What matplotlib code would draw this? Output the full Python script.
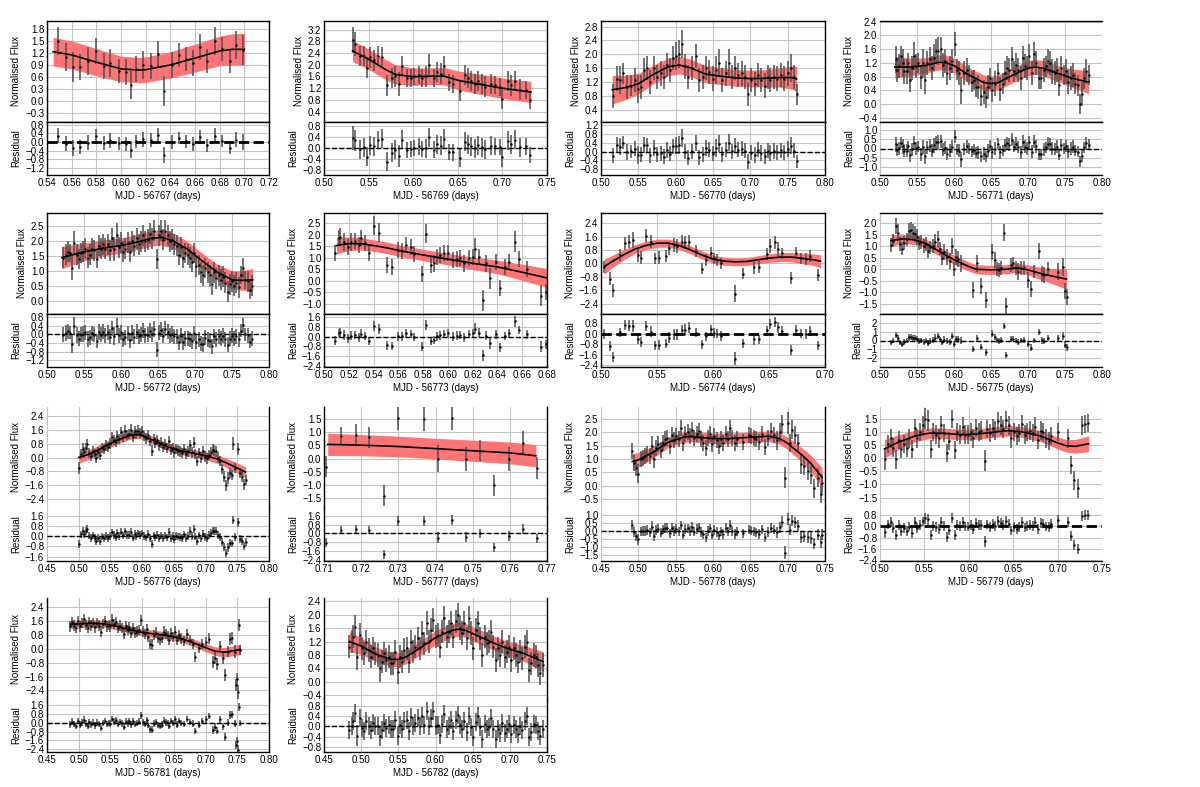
import matplotlib
matplotlib.use("Agg")
import matplotlib.pyplot as plt
from matplotlib.ticker import MultipleLocator
import numpy as np

plt.rcParams['font.family'] = ['Liberation Sans', 'DejaVu Sans']
plt.rcParams['font.size'] = 7

# light curves: (MJD fraction, normalised flux, error)
pts_56767 = [(0.549, 1.50, 0.35), (0.555, 1.10, 0.35), (0.561, 0.85, 0.38), (0.567, 0.85, 0.32),
             (0.573, 1.00, 0.35), (0.580, 1.25, 0.33), (0.586, 0.88, 0.33), (0.591, 0.95, 0.35),
             (0.598, 0.75, 0.30), (0.604, 0.72, 0.33), (0.608, 0.40, 0.35), (0.612, 0.80, 0.32),
             (0.618, 0.90, 0.35), (0.624, 0.88, 0.33), (0.630, 1.18, 0.33), (0.635, 0.25, 0.38),
             (0.641, 0.90, 0.33), (0.647, 1.15, 0.30), (0.653, 1.05, 0.30), (0.658, 0.95, 0.33),
             (0.664, 1.35, 0.33), (0.670, 1.00, 0.30), (0.676, 1.50, 0.35), (0.682, 1.30, 0.30),
             (0.688, 1.00, 0.30), (0.693, 1.40, 0.35), (0.699, 1.28, 0.38)]
mod_56767 = [(0.545, 1.23, 0.36), (0.56, 1.15, 0.35), (0.58, 0.97, 0.34), (0.60, 0.80, 0.32),
             (0.615, 0.77, 0.32), (0.62, 0.78, 0.32), (0.64, 0.90, 0.33), (0.66, 1.07, 0.35),
             (0.68, 1.25, 0.37), (0.69, 1.29, 0.39), (0.70, 1.29, 0.40)]

pts_56769 = [(0.532, 2.85, 0.45), (0.535, 2.70, 0.40), (0.540, 2.30, 0.35), (0.545, 2.30, 0.35),
             (0.548, 1.90, 0.35), (0.552, 2.25, 0.35), (0.556, 2.15, 0.35), (0.560, 2.30, 0.35),
             (0.565, 2.25, 0.35), (0.571, 1.30, 0.35), (0.576, 1.55, 0.35), (0.580, 1.60, 0.35),
             (0.584, 1.35, 0.40), (0.588, 1.95, 0.35), (0.593, 1.55, 0.30), (0.597, 1.55, 0.30),
             (0.601, 1.60, 0.30), (0.606, 1.65, 0.30), (0.610, 1.55, 0.30), (0.614, 1.60, 0.35),
             (0.618, 2.00, 0.35), (0.623, 1.55, 0.30), (0.627, 1.75, 0.35), (0.631, 1.70, 0.35),
             (0.635, 1.95, 0.35), (0.640, 1.40, 0.30), (0.645, 1.35, 0.30), (0.652, 1.10, 0.35),
             (0.658, 1.65, 0.35), (0.661, 1.55, 0.35), (0.665, 1.45, 0.35), (0.669, 1.35, 0.35),
             (0.673, 1.45, 0.35), (0.677, 1.35, 0.35), (0.681, 1.25, 0.35), (0.687, 1.35, 0.35),
             (0.692, 1.30, 0.30), (0.697, 1.25, 0.30), (0.700, 0.85, 0.35), (0.706, 1.45, 0.35),
             (0.710, 1.30, 0.35), (0.714, 1.45, 0.35), (0.720, 1.15, 0.35), (0.726, 1.15, 0.30),
             (0.731, 0.80, 0.30)]
mod_56769 = [(0.532, 2.47, 0.36), (0.55, 2.19, 0.35), (0.57, 1.82, 0.34), (0.58, 1.67, 0.33),
             (0.60, 1.59, 0.30), (0.62, 1.61, 0.28), (0.635, 1.61, 0.30), (0.65, 1.47, 0.32),
             (0.67, 1.36, 0.34), (0.70, 1.20, 0.35), (0.732, 1.07, 0.36)]

pts_56770 = [(0.516, 0.80, 0.35), (0.521, 1.30, 0.35), (0.526, 1.25, 0.40), (0.530, 1.45, 0.30),
             (0.535, 1.05, 0.35), (0.540, 1.10, 0.30), (0.545, 1.25, 0.35), (0.549, 1.00, 0.40),
             (0.553, 1.05, 0.35), (0.557, 1.55, 0.35), (0.562, 1.60, 0.35), (0.566, 1.20, 0.35),
             (0.571, 1.60, 0.35), (0.575, 1.35, 0.35), (0.580, 1.45, 0.35), (0.584, 1.35, 0.35),
             (0.588, 1.70, 0.35), (0.592, 1.55, 0.35), (0.596, 1.90, 0.35), (0.600, 1.95, 0.40),
             (0.604, 2.00, 0.40), (0.608, 2.30, 0.40), (0.612, 1.65, 0.35), (0.617, 1.35, 0.35),
             (0.622, 1.60, 0.35), (0.627, 1.95, 0.35), (0.631, 1.25, 0.35), (0.636, 1.35, 0.35),
             (0.641, 1.60, 0.35), (0.645, 1.50, 0.35), (0.650, 1.30, 0.35), (0.654, 1.55, 0.40),
             (0.658, 1.75, 0.40), (0.662, 1.25, 0.35), (0.667, 1.45, 0.35), (0.671, 1.75, 0.40),
             (0.675, 1.35, 0.35), (0.680, 1.60, 0.35), (0.684, 1.40, 0.35), (0.689, 1.45, 0.35),
             (0.693, 1.35, 0.35), (0.697, 0.85, 0.35), (0.701, 1.25, 0.35), (0.706, 1.15, 0.35),
             (0.710, 1.40, 0.35), (0.714, 1.25, 0.35), (0.719, 1.10, 0.35), (0.723, 1.35, 0.35),
             (0.727, 1.25, 0.35), (0.732, 1.35, 0.35), (0.736, 1.30, 0.35), (0.741, 1.40, 0.35),
             (0.745, 1.30, 0.35), (0.750, 1.45, 0.35), (0.755, 1.60, 0.40), (0.759, 1.35, 0.35),
             (0.763, 0.85, 0.30)]
mod_56770 = [(0.515, 0.98, 0.41), (0.53, 1.03, 0.36), (0.55, 1.15, 0.30), (0.57, 1.42, 0.27),
             (0.59, 1.64, 0.25), (0.605, 1.69, 0.25), (0.62, 1.61, 0.25), (0.64, 1.43, 0.25),
             (0.66, 1.37, 0.24), (0.68, 1.32, 0.24), (0.70, 1.30, 0.24), (0.72, 1.31, 0.25),
             (0.74, 1.33, 0.28), (0.755, 1.33, 0.33), (0.762, 1.29, 0.37)]

pts_56771 = [(0.521, 1.30, 0.40), (0.523, 1.00, 0.35), (0.526, 1.10, 0.35), (0.528, 1.40, 0.30),
             (0.531, 1.20, 0.40), (0.533, 0.95, 0.35), (0.536, 0.95, 0.35), (0.538, 1.20, 0.30),
             (0.541, 0.70, 0.35), (0.543, 1.05, 0.35), (0.546, 1.40, 0.40), (0.549, 1.10, 0.35),
             (0.552, 1.20, 0.30), (0.555, 0.80, 0.35), (0.558, 1.20, 0.40), (0.561, 0.70, 0.40),
             (0.564, 1.20, 0.35), (0.567, 1.30, 0.35), (0.570, 1.05, 0.35), (0.573, 1.35, 0.40),
             (0.576, 1.55, 0.35), (0.579, 1.55, 0.40), (0.582, 1.60, 0.35), (0.585, 1.15, 0.35),
             (0.588, 1.25, 0.35), (0.591, 0.90, 0.35), (0.594, 1.05, 0.35), (0.597, 1.25, 0.35),
             (0.601, 1.75, 0.35), (0.604, 1.00, 0.30), (0.607, 0.90, 0.35), (0.610, 0.40, 0.40),
             (0.614, 0.90, 0.35), (0.617, 1.00, 0.35), (0.620, 0.85, 0.30), (0.624, 0.65, 0.30),
             (0.627, 0.70, 0.30), (0.630, 0.50, 0.30), (0.633, 0.50, 0.35), (0.636, 0.25, 0.30),
             (0.640, 0.35, 0.35), (0.643, 0.20, 0.30), (0.646, 0.50, 0.35), (0.649, 0.75, 0.30),
             (0.652, 0.40, 0.35), (0.656, 0.60, 0.35), (0.659, 0.90, 0.30), (0.662, 0.45, 0.35),
             (0.666, 0.60, 0.30), (0.669, 0.90, 0.35), (0.672, 1.05, 0.35), (0.675, 1.00, 0.35),
             (0.678, 1.30, 0.35), (0.681, 0.95, 0.30), (0.684, 1.15, 0.35), (0.687, 1.00, 0.35),
             (0.690, 0.75, 0.35), (0.693, 1.35, 0.35), (0.696, 1.10, 0.35), (0.699, 1.05, 0.35),
             (0.702, 1.40, 0.35), (0.705, 0.90, 0.35), (0.708, 1.45, 0.35), (0.711, 1.20, 0.35),
             (0.715, 0.75, 0.30), (0.718, 0.75, 0.30), (0.721, 1.00, 0.35), (0.724, 1.10, 0.30),
             (0.727, 1.25, 0.35), (0.730, 1.20, 0.35), (0.733, 0.95, 0.35), (0.736, 0.90, 0.35),
             (0.739, 1.00, 0.35), (0.742, 0.55, 0.30), (0.745, 1.05, 0.35), (0.748, 0.85, 0.30),
             (0.751, 0.95, 0.35), (0.754, 0.65, 0.35), (0.758, 0.75, 0.35), (0.761, 0.85, 0.35),
             (0.764, 0.60, 0.30), (0.767, 0.55, 0.30), (0.770, 0.00, 0.30), (0.773, 0.30, 0.35),
             (0.776, 0.75, 0.30), (0.779, 0.95, 0.35), (0.782, 0.85, 0.30)]
mod_56771 = [(0.52, 1.08, 0.32), (0.54, 1.08, 0.26), (0.56, 1.12, 0.23), (0.58, 1.22, 0.22),
             (0.59, 1.20, 0.22), (0.60, 1.12, 0.22), (0.62, 0.85, 0.22), (0.64, 0.63, 0.22),
             (0.65, 0.60, 0.22), (0.66, 0.63, 0.22), (0.68, 0.85, 0.22), (0.70, 1.05, 0.22),
             (0.71, 1.08, 0.22), (0.72, 1.05, 0.22), (0.74, 0.90, 0.23), (0.76, 0.75, 0.27),
             (0.78, 0.65, 0.33), (0.782, 0.65, 0.34)]

pts_56772 = [(0.521, 1.45, 0.35), (0.525, 1.55, 0.35), (0.528, 1.65, 0.35), (0.531, 1.60, 0.30),
             (0.534, 1.10, 0.40), (0.537, 1.95, 0.40), (0.540, 1.55, 0.35), (0.543, 1.40, 0.35),
             (0.546, 1.60, 0.35), (0.549, 1.65, 0.35), (0.552, 1.75, 0.35), (0.555, 1.45, 0.35),
             (0.558, 1.55, 0.35), (0.561, 1.75, 0.35), (0.564, 1.70, 0.35), (0.567, 1.40, 0.30),
             (0.570, 1.85, 0.35), (0.573, 1.75, 0.35), (0.576, 1.90, 0.35), (0.579, 1.75, 0.35),
             (0.582, 1.90, 0.35), (0.585, 1.70, 0.35), (0.588, 2.10, 0.35), (0.591, 1.75, 0.40),
             (0.594, 2.20, 0.40), (0.597, 1.80, 0.35), (0.600, 1.95, 0.35), (0.603, 1.65, 0.35),
             (0.606, 1.75, 0.35), (0.609, 1.95, 0.35), (0.612, 1.65, 0.35), (0.615, 2.00, 0.35),
             (0.618, 1.85, 0.35), (0.621, 2.10, 0.35), (0.624, 1.90, 0.35), (0.627, 2.00, 0.35),
             (0.630, 2.20, 0.35), (0.633, 2.00, 0.35), (0.636, 2.05, 0.35), (0.639, 2.25, 0.35),
             (0.642, 2.10, 0.35), (0.645, 2.35, 0.35), (0.648, 1.40, 0.35), (0.651, 2.20, 0.35),
             (0.654, 2.35, 0.35), (0.657, 2.05, 0.35), (0.660, 2.35, 0.35), (0.663, 2.20, 0.35),
             (0.666, 2.00, 0.35), (0.669, 2.05, 0.35), (0.672, 1.90, 0.35), (0.675, 1.85, 0.35),
             (0.678, 1.55, 0.35), (0.681, 1.80, 0.35), (0.684, 1.45, 0.35), (0.687, 1.60, 0.35),
             (0.690, 1.55, 0.35), (0.693, 1.45, 0.35), (0.696, 1.30, 0.35), (0.699, 1.60, 0.35),
             (0.702, 1.15, 0.35), (0.705, 1.20, 0.35), (0.708, 0.95, 0.35), (0.711, 0.85, 0.35),
             (0.714, 1.10, 0.35), (0.717, 0.95, 0.35), (0.720, 0.85, 0.35), (0.723, 0.55, 0.35),
             (0.726, 0.95, 0.35), (0.729, 0.75, 0.35), (0.732, 0.85, 0.35), (0.735, 0.70, 0.35),
             (0.738, 0.80, 0.35), (0.741, 0.60, 0.35), (0.744, 0.30, 0.35), (0.747, 0.55, 0.35),
             (0.750, 0.65, 0.35), (0.753, 0.50, 0.35), (0.756, 0.60, 0.35), (0.759, 0.45, 0.35),
             (0.762, 0.85, 0.30), (0.765, 1.10, 0.35), (0.768, 0.70, 0.30), (0.771, 0.65, 0.35),
             (0.774, 0.35, 0.30), (0.777, 0.50, 0.35)]
mod_56772 = [(0.52, 1.45, 0.38), (0.55, 1.64, 0.30), (0.58, 1.79, 0.27), (0.60, 1.85, 0.26),
             (0.62, 1.96, 0.26), (0.64, 2.09, 0.26), (0.655, 2.13, 0.26), (0.67, 2.02, 0.26),
             (0.69, 1.73, 0.26), (0.71, 1.33, 0.26), (0.73, 0.96, 0.27), (0.75, 0.70, 0.30),
             (0.76, 0.68, 0.32), (0.778, 0.70, 0.38)]

pts_56773 = [(0.509, 1.20, 0.35), (0.512, 1.85, 0.35), (0.513, 1.90, 0.40), (0.516, 1.70, 0.40),
             (0.519, 1.45, 0.35), (0.522, 1.70, 0.40), (0.525, 1.75, 0.35), (0.528, 1.55, 0.35),
             (0.530, 1.85, 0.35), (0.533, 1.65, 0.35), (0.536, 1.20, 0.35), (0.540, 2.40, 0.40),
             (0.544, 2.10, 0.40), (0.551, 0.70, 0.35), (0.555, 0.60, 0.35), (0.560, 1.35, 0.35),
             (0.563, 1.30, 0.35), (0.566, 1.55, 0.35), (0.570, 1.45, 0.35), (0.573, 1.15, 0.35),
             (0.579, 0.30, 0.35), (0.582, 2.05, 0.40), (0.586, 0.70, 0.35), (0.589, 0.75, 0.35),
             (0.591, 1.05, 0.35), (0.594, 1.10, 0.35), (0.597, 1.20, 0.35), (0.600, 1.20, 0.35),
             (0.604, 0.90, 0.35), (0.607, 0.95, 0.35), (0.610, 1.00, 0.35), (0.613, 0.75, 0.35),
             (0.617, 1.00, 0.35), (0.620, 1.05, 0.35), (0.622, 1.40, 0.45), (0.625, 1.05, 0.35),
             (0.628, -0.85, 0.45), (0.631, 0.75, 0.35), (0.634, 0.10, 0.45), (0.639, 0.80, 0.35),
             (0.642, -0.30, 0.35), (0.646, 0.60, 0.35), (0.649, 0.80, 0.35), (0.654, 1.70, 0.45),
             (0.657, 0.95, 0.35), (0.664, 0.50, 0.35), (0.675, -0.65, 0.45), (0.679, -0.50, 0.35)]
mod_56773 = [(0.51, 1.53, 0.38), (0.515, 1.58, 0.33), (0.52, 1.61, 0.30), (0.53, 1.61, 0.27),
             (0.54, 1.53, 0.25), (0.55, 1.44, 0.25), (0.56, 1.32, 0.25), (0.58, 1.12, 0.25),
             (0.60, 0.94, 0.25), (0.62, 0.76, 0.27), (0.64, 0.60, 0.30), (0.66, 0.37, 0.35),
             (0.68, 0.12, 0.41)]

pts_56774 = [(0.503, -0.20, 0.35), (0.508, -0.90, 0.40), (0.511, -1.60, 0.40), (0.517, 0.50, 0.35),
             (0.521, 1.20, 0.40), (0.525, 1.30, 0.40), (0.529, 1.40, 0.45), (0.533, 0.50, 0.40),
             (0.536, 0.35, 0.40), (0.540, 1.65, 0.40), (0.545, 1.30, 0.40), (0.548, 0.30, 0.35),
             (0.552, 0.35, 0.40), (0.558, 0.45, 0.35), (0.561, 0.90, 0.40), (0.565, 1.10, 0.40),
             (0.568, 1.05, 0.40), (0.572, 1.30, 0.40), (0.575, 1.25, 0.40), (0.579, 1.30, 0.40),
             (0.585, 0.75, 0.35), (0.590, -0.30, 0.35), (0.594, 0.20, 0.35), (0.598, 0.65, 0.35),
             (0.601, 0.30, 0.35), (0.604, 0.20, 0.35), (0.607, 0.00, 0.35), (0.620, -1.80, 0.50),
             (0.627, -0.60, 0.35), (0.637, -0.20, 0.45), (0.641, -0.20, 0.35), (0.648, 0.55, 0.35),
             (0.651, 1.05, 0.40), (0.655, 1.25, 0.40), (0.658, 0.85, 0.40), (0.662, 0.60, 0.35),
             (0.670, -0.85, 0.35), (0.674, 0.65, 0.35), (0.679, 0.30, 0.35), (0.683, 0.25, 0.35),
             (0.687, 0.45, 0.35), (0.694, -0.70, 0.35)]
mod_56774 = [(0.503, -0.18, 0.45), (0.51, 0.12, 0.36), (0.52, 0.51, 0.30), (0.53, 0.85, 0.26),
             (0.54, 1.07, 0.25), (0.55, 1.21, 0.24), (0.56, 1.21, 0.24), (0.57, 1.07, 0.24),
             (0.58, 0.81, 0.24), (0.59, 0.51, 0.24), (0.60, 0.26, 0.24), (0.61, 0.14, 0.24),
             (0.62, 0.10, 0.24), (0.63, 0.12, 0.24), (0.64, 0.22, 0.24), (0.65, 0.32, 0.25),
             (0.66, 0.38, 0.26), (0.67, 0.38, 0.28), (0.68, 0.30, 0.31), (0.69, 0.22, 0.35),
             (0.696, 0.14, 0.38)]

pts_56775 = [(0.515, 1.05, 0.30), (0.518, 1.25, 0.30), (0.522, 1.90, 0.35), (0.524, 1.60, 0.35),
             (0.527, 1.10, 0.30), (0.530, 0.90, 0.30), (0.533, 1.15, 0.30), (0.537, 1.30, 0.30),
             (0.539, 1.65, 0.35), (0.542, 1.70, 0.35), (0.545, 1.60, 0.35), (0.547, 1.55, 0.35),
             (0.550, 1.40, 0.35), (0.553, 1.15, 0.30), (0.556, 1.20, 0.30), (0.559, 1.00, 0.30),
             (0.562, 1.10, 0.30), (0.565, 0.80, 0.30), (0.568, 0.95, 0.30), (0.572, 1.00, 0.30),
             (0.575, 1.20, 0.35), (0.578, 1.30, 0.35), (0.581, 0.90, 0.30), (0.584, 0.50, 0.30),
             (0.587, 0.75, 0.35), (0.590, 0.55, 0.35), (0.594, 0.35, 0.35), (0.597, 1.00, 0.35),
             (0.600, 0.00, 0.30), (0.603, 0.55, 0.35), (0.606, 0.45, 0.35), (0.610, 0.25, 0.35),
             (0.626, -0.90, 0.35), (0.631, 0.25, 0.35), (0.637, -0.75, 0.35), (0.643, -1.35, 0.35),
             (0.651, 0.75, 0.35), (0.655, 0.40, 0.35), (0.658, 0.00, 0.30), (0.661, -0.05, 0.30),
             (0.664, 0.05, 0.30), (0.667, 1.60, 0.35), (0.670, -1.60, 0.35), (0.677, 0.20, 0.30),
             (0.680, 0.25, 0.30), (0.684, 0.05, 0.30), (0.687, -0.10, 0.35), (0.690, 0.05, 0.30),
             (0.694, 0.05, 0.30), (0.700, -0.45, 0.35), (0.704, -0.85, 0.35), (0.708, -0.10, 0.30),
             (0.715, 0.80, 0.35), (0.719, -0.20, 0.35), (0.722, -0.25, 0.35), (0.727, 0.00, 0.30),
             (0.740, -0.10, 0.35), (0.747, 0.10, 0.40), (0.750, -0.95, 0.35), (0.753, -1.20, 0.35)]
mod_56775 = [(0.515, 1.25, 0.25), (0.53, 1.32, 0.21), (0.545, 1.29, 0.20), (0.56, 1.15, 0.20),
             (0.58, 0.78, 0.20), (0.60, 0.41, 0.20), (0.62, 0.12, 0.20), (0.63, 0.00, 0.20),
             (0.65, -0.03, 0.20), (0.67, 0.00, 0.20), (0.685, 0.06, 0.20), (0.70, -0.03, 0.22),
             (0.72, -0.21, 0.27), (0.74, -0.35, 0.37), (0.752, -0.43, 0.45)]

pts_56776 = [(0.500, -0.60, 0.35), (0.503, 0.20, 0.30), (0.506, 0.50, 0.35), (0.508, 0.30, 0.30),
             (0.511, 0.55, 0.30), (0.513, 0.75, 0.30), (0.516, 0.25, 0.30), (0.519, 0.10, 0.30),
             (0.522, 0.35, 0.30), (0.525, 0.20, 0.30), (0.528, 0.00, 0.30), (0.531, 0.30, 0.30),
             (0.534, 0.15, 0.30), (0.537, 0.55, 0.30), (0.540, 0.50, 0.30), (0.543, 0.70, 0.30),
             (0.546, 0.60, 0.30), (0.549, 0.80, 0.30), (0.552, 1.15, 0.30), (0.555, 1.00, 0.30),
             (0.558, 0.90, 0.30), (0.561, 1.25, 0.30), (0.564, 1.05, 0.30), (0.567, 1.45, 0.30),
             (0.570, 1.20, 0.30), (0.573, 1.55, 0.30), (0.576, 1.30, 0.30), (0.579, 1.35, 0.30),
             (0.582, 1.60, 0.30), (0.585, 1.20, 0.30), (0.588, 1.50, 0.30), (0.591, 1.35, 0.30),
             (0.594, 1.55, 0.30), (0.597, 1.40, 0.30), (0.600, 1.50, 0.30), (0.603, 1.25, 0.30),
             (0.606, 1.10, 0.30), (0.609, 1.30, 0.30), (0.612, 0.95, 0.30), (0.615, 0.40, 0.30),
             (0.618, 1.05, 0.30), (0.621, 0.85, 0.30), (0.624, 1.00, 0.30), (0.627, 0.70, 0.30),
             (0.630, 0.85, 0.30), (0.633, 0.60, 0.30), (0.636, 0.75, 0.30), (0.639, 0.55, 0.30),
             (0.642, 0.95, 0.30), (0.645, 0.45, 0.30), (0.648, 0.55, 0.30), (0.651, 0.30, 0.30),
             (0.654, 0.50, 0.30), (0.657, 0.40, 0.30), (0.660, 0.35, 0.30), (0.663, 0.25, 0.30),
             (0.666, 0.50, 0.30), (0.669, 0.20, 0.30), (0.672, 0.35, 0.30), (0.675, 0.70, 0.30),
             (0.678, 0.30, 0.30), (0.681, 0.85, 0.30), (0.684, 0.20, 0.30), (0.687, -0.20, 0.30),
             (0.690, 0.25, 0.30), (0.693, 0.00, 0.30), (0.696, 0.35, 0.30), (0.699, 0.05, 0.30),
             (0.702, -0.05, 0.30), (0.705, 0.15, 0.30), (0.708, 0.30, 0.30), (0.711, 0.45, 0.30),
             (0.714, 0.40, 0.30), (0.717, 0.35, 0.30), (0.720, 0.00, 0.30), (0.723, -0.20, 0.30),
             (0.726, -0.65, 0.30), (0.729, -1.10, 0.30), (0.732, -1.60, 0.30), (0.735, -1.20, 0.35),
             (0.738, -0.90, 0.30), (0.741, -1.00, 0.30), (0.744, 0.80, 0.35), (0.747, -0.60, 0.30),
             (0.751, 0.50, 0.35), (0.754, -0.90, 0.30), (0.757, -1.10, 0.30), (0.760, -1.55, 0.30),
             (0.763, -1.30, 0.30)]
mod_56776 = [(0.50, 0.00, 0.34), (0.52, 0.23, 0.28), (0.54, 0.62, 0.24), (0.56, 0.98, 0.22),
             (0.58, 1.25, 0.22), (0.59, 1.33, 0.22), (0.60, 1.27, 0.22), (0.62, 0.94, 0.22),
             (0.64, 0.62, 0.22), (0.66, 0.39, 0.22), (0.68, 0.25, 0.22), (0.70, 0.10, 0.23),
             (0.72, -0.10, 0.25), (0.74, -0.43, 0.28), (0.763, -0.84, 0.31)]

pts_56777 = [(0.7105, -0.30, 0.40), (0.7145, 0.85, 0.35), (0.7185, 0.90, 0.40), (0.7222, 0.80, 0.40),
             (0.7262, -1.40, 0.40), (0.7300, 1.55, 0.45), (0.7368, 1.50, 0.45), (0.7408, 0.00, 0.50),
             (0.7445, 1.55, 0.45), (0.7483, 0.00, 0.45), (0.7521, 0.30, 0.40), (0.7558, -1.00, 0.40),
             (0.7598, 0.00, 0.45), (0.7635, 0.60, 0.45), (0.7672, -0.35, 0.40)]
mod_56777 = [(0.711, 0.54, 0.42), (0.72, 0.51, 0.40), (0.73, 0.46, 0.39), (0.74, 0.38, 0.39),
             (0.75, 0.30, 0.40), (0.76, 0.22, 0.41), (0.767, 0.11, 0.42)]

pts_56778 = [(0.492, 1.30, 0.30), (0.494, 0.85, 0.30), (0.497, 0.65, 0.30), (0.500, 0.45, 0.35),
             (0.503, 1.00, 0.30), (0.506, 1.05, 0.30), (0.509, 1.10, 0.30), (0.512, 1.20, 0.30),
             (0.515, 1.10, 0.30), (0.518, 1.50, 0.35), (0.521, 1.00, 0.35), (0.524, 1.40, 0.30),
             (0.527, 1.55, 0.30), (0.530, 1.35, 0.30), (0.533, 1.60, 0.30), (0.536, 1.75, 0.30),
             (0.539, 1.80, 0.30), (0.542, 1.50, 0.30), (0.545, 1.90, 0.30), (0.548, 1.70, 0.30),
             (0.551, 1.85, 0.30), (0.554, 1.75, 0.30), (0.557, 2.15, 0.30), (0.560, 1.60, 0.30),
             (0.563, 1.95, 0.30), (0.566, 2.00, 0.30), (0.569, 1.85, 0.30), (0.572, 2.10, 0.30),
             (0.575, 1.80, 0.30), (0.578, 1.95, 0.30), (0.581, 2.05, 0.30), (0.584, 1.75, 0.30),
             (0.587, 1.60, 0.30), (0.590, 1.40, 0.30), (0.593, 1.80, 0.30), (0.596, 1.95, 0.30),
             (0.599, 1.55, 0.30), (0.602, 1.85, 0.30), (0.605, 1.70, 0.30), (0.608, 1.50, 0.30),
             (0.611, 1.75, 0.30), (0.614, 1.60, 0.30), (0.617, 1.95, 0.30), (0.620, 1.75, 0.30),
             (0.623, 2.15, 0.30), (0.626, 1.80, 0.30), (0.629, 1.60, 0.30), (0.632, 1.75, 0.30),
             (0.640, 1.65, 0.30), (0.648, 1.90, 0.30), (0.651, 1.85, 0.30), (0.655, 1.80, 0.30),
             (0.658, 1.75, 0.30), (0.662, 1.65, 0.30), (0.666, 1.95, 0.30), (0.670, 1.45, 0.30),
             (0.674, 1.80, 0.30), (0.678, 2.05, 0.30), (0.682, 1.90, 0.30), (0.686, 1.70, 0.35),
             (0.690, 2.00, 0.35), (0.693, 2.30, 0.35), (0.696, 0.30, 0.40), (0.700, 2.35, 0.40),
             (0.703, 1.60, 0.35), (0.706, 2.10, 0.35), (0.710, 1.90, 0.35), (0.714, 1.60, 0.35),
             (0.718, 0.80, 0.35), (0.722, 0.75, 0.35), (0.727, 0.55, 0.35), (0.731, 0.40, 0.35),
             (0.735, -0.10, 0.35), (0.740, 0.30, 0.35), (0.744, -0.30, 0.35), (0.746, 0.10, 0.35)]
mod_56778 = [(0.492, 0.91, 0.30), (0.50, 0.97, 0.27), (0.52, 1.26, 0.22), (0.54, 1.63, 0.20),
             (0.56, 1.82, 0.20), (0.57, 1.85, 0.20), (0.58, 1.82, 0.20), (0.60, 1.77, 0.20),
             (0.62, 1.77, 0.20), (0.64, 1.80, 0.20), (0.66, 1.83, 0.20), (0.675, 1.86, 0.20),
             (0.69, 1.76, 0.21), (0.70, 1.59, 0.23), (0.72, 1.13, 0.27), (0.73, 0.87, 0.30),
             (0.746, 0.32, 0.36)]

pts_56779 = [(0.506, -0.05, 0.40), (0.509, 0.55, 0.35), (0.512, 0.75, 0.35), (0.515, 0.40, 0.35),
             (0.518, -0.05, 0.35), (0.521, 0.70, 0.35), (0.524, 0.35, 0.35), (0.527, 0.55, 0.35),
             (0.530, 0.40, 0.35), (0.533, 0.75, 0.35), (0.536, 0.35, 0.35), (0.539, 1.15, 0.35),
             (0.542, 0.75, 0.35), (0.545, 1.00, 0.35), (0.548, 1.25, 0.35), (0.551, 1.50, 0.40),
             (0.554, 1.45, 0.40), (0.557, 0.35, 0.35), (0.560, 1.00, 0.35), (0.563, 0.90, 0.35),
             (0.566, 0.75, 0.35), (0.569, 1.25, 0.35), (0.572, 0.95, 0.35), (0.575, 0.20, 0.35),
             (0.578, 0.65, 0.35), (0.581, 1.50, 0.35), (0.584, 0.30, 0.35), (0.587, 1.00, 0.35),
             (0.590, 0.90, 0.35), (0.593, 1.20, 0.35), (0.596, 0.90, 0.35), (0.599, 0.90, 0.35),
             (0.602, 1.00, 0.35), (0.605, 0.75, 0.35), (0.608, 1.15, 0.35), (0.611, 1.00, 0.35),
             (0.614, 1.05, 0.35), (0.618, -0.10, 0.40), (0.621, 1.10, 0.35), (0.624, 0.95, 0.35),
             (0.627, 1.15, 0.35), (0.630, 1.05, 0.35), (0.633, 1.40, 0.35), (0.636, 1.25, 0.35),
             (0.639, 1.10, 0.35), (0.642, 1.45, 0.35), (0.645, 1.25, 0.35), (0.648, 0.75, 0.35),
             (0.651, 1.00, 0.35), (0.654, 0.85, 0.35), (0.657, 0.95, 0.35), (0.660, 1.30, 0.35),
             (0.663, 0.90, 0.35), (0.666, 1.00, 0.35), (0.669, 1.05, 0.35), (0.672, 0.95, 0.35),
             (0.675, 1.20, 0.35), (0.678, 0.70, 0.35), (0.681, 1.05, 0.35), (0.684, 1.00, 0.35),
             (0.687, 0.75, 0.35), (0.690, 0.65, 0.35), (0.693, 0.85, 0.35), (0.700, 1.00, 0.35),
             (0.712, 0.75, 0.35), (0.715, -0.25, 0.35), (0.719, -0.85, 0.35), (0.723, -1.15, 0.35),
             (0.727, 1.25, 0.35), (0.731, 1.30, 0.35), (0.734, 1.35, 0.35)]
mod_56779 = [(0.505, 0.35, 0.36), (0.52, 0.60, 0.28), (0.54, 0.85, 0.22), (0.555, 0.95, 0.20),
             (0.57, 0.95, 0.20), (0.59, 0.90, 0.20), (0.61, 0.92, 0.20), (0.63, 1.00, 0.20),
             (0.645, 1.05, 0.20), (0.66, 1.00, 0.20), (0.68, 0.85, 0.21), (0.69, 0.72, 0.22),
             (0.70, 0.58, 0.23), (0.71, 0.47, 0.24), (0.72, 0.45, 0.26), (0.735, 0.55, 0.30)]

pts_56781 = [(0.487, 1.30, 0.30), (0.490, 1.55, 0.30), (0.493, 1.35, 0.30), (0.496, 1.20, 0.30),
             (0.499, 1.60, 0.30), (0.502, 1.30, 0.30), (0.505, 1.50, 0.30), (0.508, 1.75, 0.30),
             (0.511, 1.40, 0.30), (0.514, 1.20, 0.30), (0.517, 1.55, 0.30), (0.520, 1.35, 0.30),
             (0.523, 1.50, 0.30), (0.526, 1.25, 0.30), (0.529, 1.50, 0.30), (0.532, 1.35, 0.30),
             (0.535, 1.00, 0.30), (0.538, 1.45, 0.30), (0.541, 1.60, 0.30), (0.544, 1.30, 0.30),
             (0.547, 1.40, 0.30), (0.550, 1.30, 0.30), (0.553, 1.70, 0.30), (0.556, 1.45, 0.30),
             (0.559, 1.55, 0.30), (0.562, 1.20, 0.30), (0.565, 1.35, 0.30), (0.568, 1.20, 0.30),
             (0.571, 0.85, 0.30), (0.574, 1.30, 0.30), (0.577, 1.10, 0.30), (0.580, 1.25, 0.30),
             (0.583, 0.95, 0.30), (0.586, 1.20, 0.30), (0.589, 0.95, 0.30), (0.592, 1.00, 0.30),
             (0.595, 1.10, 0.30), (0.598, 1.65, 0.30), (0.601, 1.00, 0.30), (0.604, 0.85, 0.30),
             (0.607, 1.15, 0.30), (0.610, 0.70, 0.30), (0.613, 0.30, 0.30), (0.616, 0.25, 0.30),
             (0.619, 0.80, 0.30), (0.622, 0.95, 0.30), (0.625, 0.65, 0.30), (0.628, 0.55, 0.30),
             (0.631, 0.65, 0.30), (0.634, 1.00, 0.30), (0.637, 0.85, 0.30), (0.640, 0.75, 0.30),
             (0.643, 0.50, 0.30), (0.646, 0.90, 0.30), (0.649, 0.70, 0.30), (0.652, 1.00, 0.30),
             (0.655, 0.50, 0.30), (0.658, 0.80, 0.30), (0.662, 0.60, 0.30), (0.666, 0.45, 0.30),
             (0.670, 0.85, 0.30), (0.675, 0.50, 0.30), (0.680, 0.30, 0.30), (0.684, -0.45, 0.30),
             (0.690, 0.05, 0.30), (0.695, 0.30, 0.30), (0.700, 0.40, 0.30), (0.706, 0.60, 0.30),
             (0.712, -0.75, 0.35), (0.715, -0.50, 0.35), (0.718, -0.85, 0.35), (0.723, 0.15, 0.30),
             (0.727, -0.50, 0.35), (0.731, -1.50, 0.35), (0.735, -0.15, 0.30), (0.739, 0.60, 0.35),
             (0.742, 0.65, 0.35), (0.746, -0.15, 0.35), (0.748, -2.10, 0.35), (0.749, -1.75, 0.35),
             (0.751, -2.50, 0.40), (0.753, 1.40, 0.35), (0.755, -0.05, 0.30)]
mod_56781 = [(0.487, 1.43, 0.25), (0.50, 1.45, 0.22), (0.52, 1.49, 0.21), (0.54, 1.45, 0.21),
             (0.56, 1.31, 0.21), (0.58, 1.12, 0.21), (0.60, 0.96, 0.21), (0.62, 0.86, 0.21),
             (0.64, 0.78, 0.21), (0.66, 0.62, 0.21), (0.68, 0.37, 0.22), (0.70, 0.07, 0.23),
             (0.715, -0.13, 0.25), (0.73, -0.19, 0.27), (0.74, -0.13, 0.28), (0.755, -0.03, 0.31)]

pts_56782 = [(0.484, 1.05, 0.35), (0.487, 1.20, 0.35), (0.489, 1.35, 0.35), (0.492, 1.65, 0.35),
             (0.495, 0.75, 0.40), (0.498, 1.40, 0.35), (0.501, 1.00, 0.35), (0.504, 0.85, 0.35),
             (0.507, 1.20, 0.35), (0.510, 0.95, 0.35), (0.513, 0.75, 0.35), (0.516, 1.00, 0.35),
             (0.519, 0.85, 0.35), (0.522, 0.80, 0.35), (0.525, 0.40, 0.40), (0.528, 0.60, 0.35),
             (0.531, 0.85, 0.35), (0.534, 0.65, 0.35), (0.537, 0.75, 0.35), (0.540, 0.55, 0.35),
             (0.543, 0.55, 0.35), (0.546, 0.90, 0.35), (0.549, 0.30, 0.35), (0.552, 0.75, 0.35),
             (0.555, 0.60, 0.35), (0.558, 0.95, 0.35), (0.561, 1.00, 0.35), (0.564, 0.60, 0.35),
             (0.567, 1.20, 0.35), (0.570, 0.90, 0.35), (0.573, 1.05, 0.35), (0.576, 1.30, 0.35),
             (0.579, 1.00, 0.35), (0.582, 1.45, 0.35), (0.585, 1.15, 0.35), (0.588, 1.75, 0.35),
             (0.591, 1.20, 0.35), (0.594, 1.55, 0.35), (0.597, 1.85, 0.35), (0.600, 1.35, 0.35),
             (0.603, 1.40, 0.35), (0.606, 1.05, 0.35), (0.609, 1.50, 0.35), (0.612, 1.90, 0.35),
             (0.615, 1.35, 0.35), (0.618, 1.50, 0.35), (0.621, 1.75, 0.35), (0.624, 1.35, 0.35),
             (0.627, 1.80, 0.35), (0.630, 2.00, 0.35), (0.633, 1.60, 0.35), (0.636, 1.45, 0.35),
             (0.639, 1.75, 0.35), (0.642, 1.30, 0.35), (0.645, 1.90, 0.35), (0.648, 1.45, 0.35),
             (0.651, 1.00, 0.35), (0.654, 1.55, 0.35), (0.657, 1.75, 0.35), (0.660, 1.30, 0.35),
             (0.663, 0.80, 0.35), (0.666, 1.35, 0.35), (0.669, 1.15, 0.35), (0.672, 1.20, 0.35),
             (0.675, 1.50, 0.35), (0.678, 1.05, 0.35), (0.681, 0.65, 0.35), (0.684, 1.00, 0.35),
             (0.687, 0.80, 0.35), (0.690, 1.20, 0.35), (0.693, 0.75, 0.35), (0.696, 0.90, 0.35),
             (0.699, 1.05, 0.35), (0.702, 0.65, 0.35), (0.705, 1.00, 0.35), (0.708, 0.80, 0.35),
             (0.711, 0.60, 0.35), (0.714, 0.90, 0.35), (0.717, 0.70, 0.35), (0.720, 1.05, 0.35),
             (0.723, 1.20, 0.35), (0.726, 0.35, 0.35), (0.729, 0.55, 0.35), (0.732, 0.80, 0.35),
             (0.735, 0.75, 0.35), (0.738, 0.50, 0.35), (0.741, 0.25, 0.35), (0.744, 0.50, 0.35)]
mod_56782 = [(0.484, 1.20, 0.30), (0.50, 1.07, 0.25), (0.52, 0.82, 0.22), (0.54, 0.67, 0.21),
             (0.55, 0.67, 0.21), (0.56, 0.74, 0.21), (0.58, 1.02, 0.21), (0.60, 1.32, 0.21),
             (0.62, 1.52, 0.21), (0.63, 1.57, 0.21), (0.64, 1.54, 0.21), (0.66, 1.34, 0.21),
             (0.68, 1.14, 0.21), (0.70, 0.97, 0.22), (0.72, 0.84, 0.24), (0.745, 0.60, 0.30)]

nights = [56767, 56769, 56770, 56771, 56772, 56773, 56774, 56775,
          56776, 56777, 56778, 56779, 56781, 56782]
points = [pts_56767, pts_56769, pts_56770, pts_56771, pts_56772, pts_56773, pts_56774,
          pts_56775, pts_56776, pts_56777, pts_56778, pts_56779, pts_56781, pts_56782]
models = [mod_56767, mod_56769, mod_56770, mod_56771, mod_56772, mod_56773, mod_56774,
          mod_56775, mod_56776, mod_56777, mod_56778, mod_56779, mod_56781, mod_56782]

# axis ranges: (low, high, tick step)
x_ranges = [(0.54, 0.72, 0.02), (0.50, 0.75, 0.05), (0.50, 0.80, 0.05), (0.50, 0.80, 0.05),
            (0.50, 0.80, 0.05), (0.50, 0.68, 0.02), (0.50, 0.70, 0.05), (0.50, 0.80, 0.05),
            (0.45, 0.80, 0.05), (0.71, 0.77, 0.01), (0.45, 0.75, 0.05), (0.50, 0.75, 0.05),
            (0.45, 0.80, 0.05), (0.45, 0.75, 0.05)]
flux_ranges = [(-0.53, 2.0, 0.3), (0.05, 3.49, 0.4), (0.05, 2.96, 0.4), (-0.52, 2.42, 0.4),
               (-0.45, 2.95, 0.5), (-1.45, 2.95, 0.5), (-3.0, 3.0, 0.8), (-1.95, 2.45, 0.5),
               (-2.9, 2.9, 0.8), (-1.86, 1.95, 0.5), (-0.83, 2.95, 0.5), (-1.9, 1.95, 0.5),
               (-2.9, 2.95, 0.8), (-0.51, 2.5, 0.4)]
resid_ranges = [(-1.55, 0.94, 0.4), (-1.0, 0.96, 0.4), (-1.07, 1.36, 0.4), (-1.45, 1.45, 0.5),
                (-1.5, 0.94, 0.4), (-2.5, 1.86, 0.8), (-2.53, 1.5, 0.8), (-2.95, 2.95, 1.0),
                (-1.95, 2.25, 0.8), (-2.5, 2.3, 0.8), (-1.88, 1.45, 0.5), (-2.45, 1.3, 0.8),
                (-2.66, 2.18, 0.8), (-1.0, 1.06, 0.4)]
bold_zero = [56767, 56774, 56779]

W, H = 1200, 787
col_left = [47, 324, 601, 880]
col_right = [269, 547, 825, 1102]
row_top = [21, 213, 407, 598]
row_mid = [122, 314, 508, 699]
row_bot = [175, 367, 561, 752]


def box(l, t, r, b):
    return [l / W, 1 - b / H, (r - l) / W, (b - t) / H]


def style(ax):
    ax.set_facecolor("white")
    ax.grid(True, color="#c4c4c4", linewidth=0.8)
    ax.set_axisbelow(True)
    ax.tick_params(length=0, pad=2, labelsize=7)
    for s in ax.spines.values():
        s.set_linewidth(1.0)
        s.set_color("black")


fig = plt.figure(figsize=(12, 7.87), dpi=100)

for i, night in enumerate(nights):
    row, col = divmod(i, 4)
    l, r = col_left[col], col_right[col]
    ax = fig.add_axes(box(l, row_top[row], r, row_mid[row]))
    rax = fig.add_axes(box(l, row_mid[row], r, row_bot[row]), sharex=ax)
    style(ax)
    style(rax)

    t = np.array([p[0] for p in points[i]])
    f = np.array([p[1] for p in points[i]])
    e = np.array([p[2] for p in points[i]])
    mt = np.array([m[0] for m in models[i]])
    mf = np.array([m[1] for m in models[i]])
    mw = np.array([m[2] for m in models[i]])
    resid = f - np.interp(t, mt, mf)

    ax.fill_between(mt, mf - mw, mf + mw, color="#ff6e6e", alpha=0.95, linewidth=0, zorder=2)
    ax.errorbar(t, f, yerr=e, fmt=".", color="black", ms=1.5, ecolor="#4d4d4d",
                elinewidth=1.1, capsize=0, zorder=3)
    ax.plot(mt, mf, color="black", lw=1.2, zorder=4)

    rax.errorbar(t, resid, yerr=e, fmt=".", color="black", ms=1.5, ecolor="#4d4d4d",
                 elinewidth=1.1, capsize=0, zorder=3)
    rax.axhline(0, color="black", ls="--", lw=2.0 if night in bold_zero else 1.0, zorder=4)

    x0, x1, xs = x_ranges[i]
    ax.set_xlim(x0, x1)
    ax.xaxis.set_major_locator(MultipleLocator(xs))
    y0, y1, ys = flux_ranges[i]
    ax.set_ylim(y0, y1)
    ax.yaxis.set_major_locator(MultipleLocator(ys))
    r0, r1, rs = resid_ranges[i]
    rax.set_ylim(r0, r1)
    rax.yaxis.set_major_locator(MultipleLocator(rs))

    ax.tick_params(labelbottom=False)
    ax.set_ylabel("Normalised Flux", fontsize=7, labelpad=3)
    rax.set_ylabel("Residual", fontsize=7, labelpad=3)
    rax.set_xlabel(f"MJD - {night} (days)", fontsize=7, labelpad=2)

    # frame lines that are not drawn in the original
    if row >= 2:
        ax.spines["top"].set_visible(False)
        ax.spines["bottom"].set_visible(False)
        rax.spines["top"].set_visible(False)
    if col == 3:
        for a in (ax, rax):
            a.spines["left"].set_visible(False)
            a.spines["right"].set_visible(False)
    if row == 2 and col in (0, 2):
        ax.spines["left"].set_visible(False)
        rax.spines["left"].set_visible(False)

fig.savefig("out.png", dpi=100, facecolor="white")
